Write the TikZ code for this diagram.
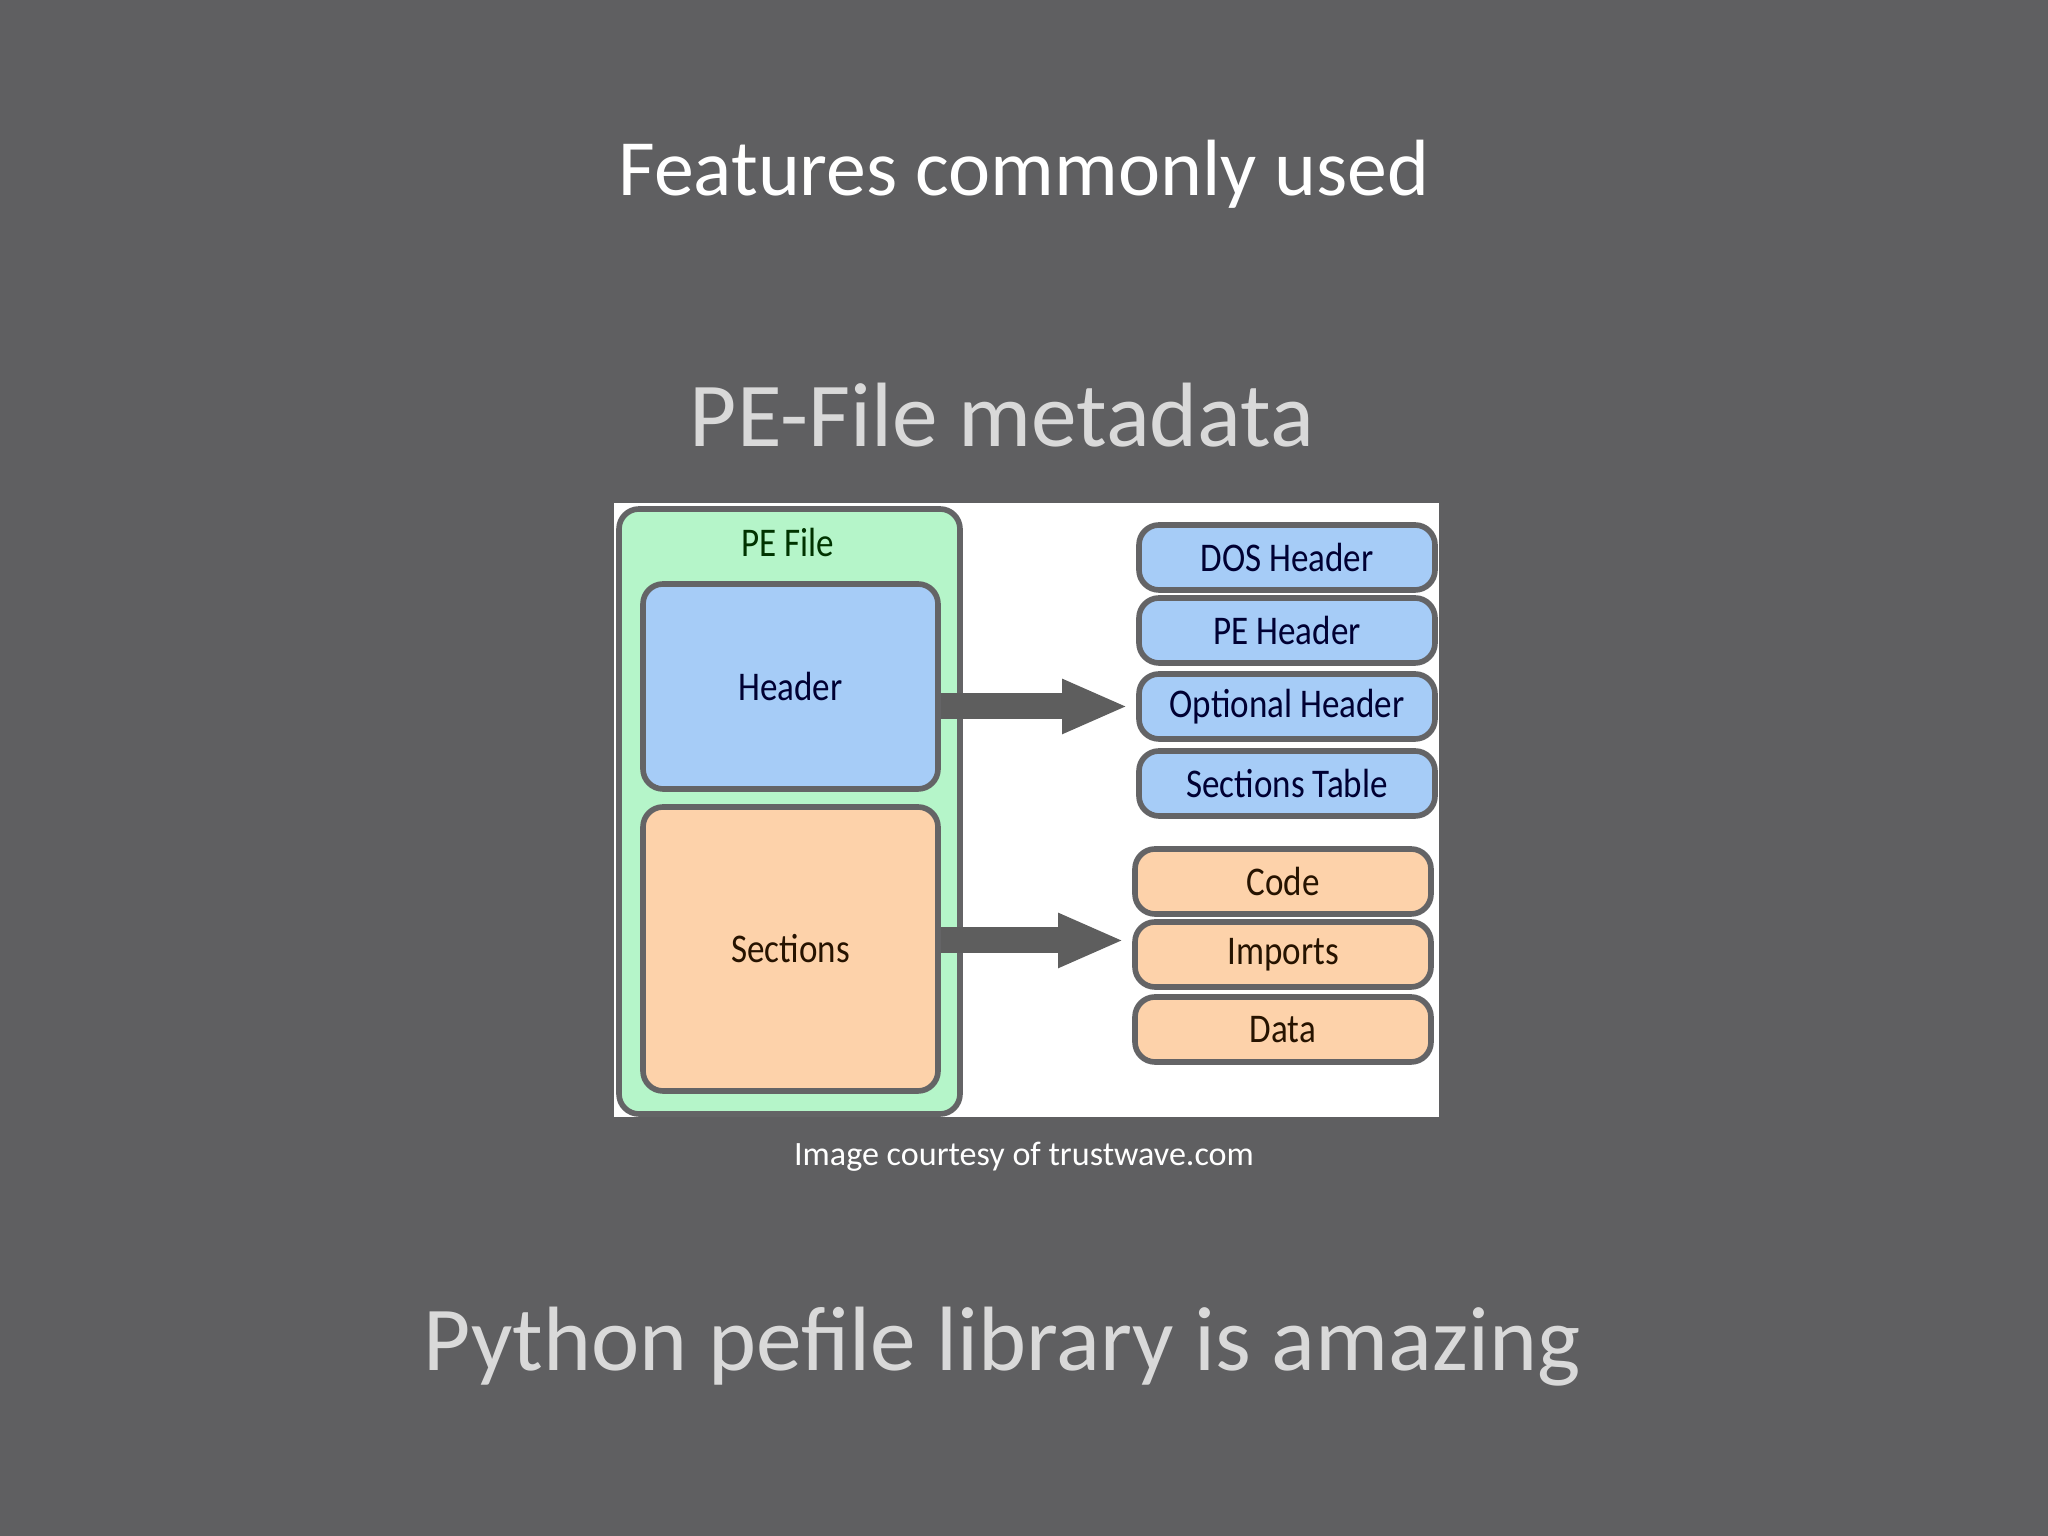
\documentclass[tikz,border=0pt]{standalone}
\usepackage{fontspec}
\setmainfont{Carlito}
\newfontfamily\pefont[FakeStretch=0.86]{Carlito}
\usepackage{xcolor}
\usetikzlibrary{arrows.meta}
\definecolor{SlideGray}{HTML}{5F5F61}
\definecolor{SoftWhite}{HTML}{D9D9D9}
\definecolor{PEGreen}{HTML}{B5F5C9}
\definecolor{PEBlue}{HTML}{A6CCF7}
\definecolor{PEOrange}{HTML}{FDD2AA}
\definecolor{PEEdge}{HTML}{646466}
\definecolor{PEArrow}{HTML}{5E5E5E}
\tikzset{
  pebox/.style={draw=PEEdge, line width=1.6pt, rounded corners=0.2cm, inner sep=0pt,
    font=\pefont\fontsize{11.6}{13}\selectfont},
  partbox/.style={pebox, minimum width=2.96cm, minimum height=0.65cm},
  fatarrow/.style={draw=PEArrow, line width=0.26cm, -{Triangle[length=0.66cm,width=0.5cm]}, shorten >=0.08cm}
}
\begin{document}
\begin{tikzpicture}
  \fill[SlideGray] (0,0) rectangle (20.48,15.36);
  \node[color=white, font=\fontsize{22.7}{27}\selectfont, anchor=base] (title) at (10.24,13.40)
    {Features commonly used};
  \node[color=SoftWhite, font=\fontsize{26}{31}\selectfont, anchor=base] (meta) at (10.02,10.89)
    {PE-File metadata};
  % the picture from trustwave
  \fill[white] (6.14,4.19) rectangle (14.39,10.33);
  \node[pebox, fill=PEGreen, minimum width=3.41cm, minimum height=6.05cm] (pefile) at (7.895,7.245) {};
  \node[color=black!80!green, font=\pefont\fontsize{11.6}{13}\selectfont] (pelabel) at (7.88,9.93) {PE File};
  \node[pebox, fill=PEBlue, minimum width=2.95cm, minimum height=2.05cm,
    text=black!80!blue] (header) at (7.905,8.495) {Header};
  \node[pebox, fill=PEOrange, minimum width=2.95cm, minimum height=2.84cm,
    text=black!85!orange] (sections) at (7.905,5.87) {Sections};
  \node[partbox, fill=PEBlue, text=black!80!blue] (dos) at (12.87,9.785) {DOS Header};
  \node[partbox, fill=PEBlue, text=black!80!blue] (pehead) at (12.87,9.055) {PE Header};
  \node[partbox, fill=PEBlue, text=black!80!blue] (opt) at (12.87,8.295) {Optional Header};
  \node[partbox, fill=PEBlue, text=black!80!blue] (sectab) at (12.87,7.525) {Sections Table};
  \node[partbox, fill=PEOrange, text=black!85!orange] (code) at (12.83,6.545) {Code};
  \node[partbox, fill=PEOrange, text=black!85!orange] (imports) at (12.83,5.815) {Imports};
  \node[partbox, fill=PEOrange, text=black!85!orange] (data) at (12.83,5.065) {Data};
  \draw[fatarrow] (header.east |- opt.west) -- (opt.west);
  \draw[fatarrow] ([yshift=0.14cm]sections.east |- imports.west) -- ([yshift=0.14cm]imports.west);
  \node[color=white, font=\fontsize{9.7}{11}\selectfont, anchor=base] (credit) at (10.24,3.70)
    {Image courtesy of trustwave.com};
  \node[color=SoftWhite, font=\fontsize{26}{31}\selectfont, anchor=base] (pylib) at (10.02,1.65)
    {Python pefile library is amazing};
\end{tikzpicture}
\end{document}
